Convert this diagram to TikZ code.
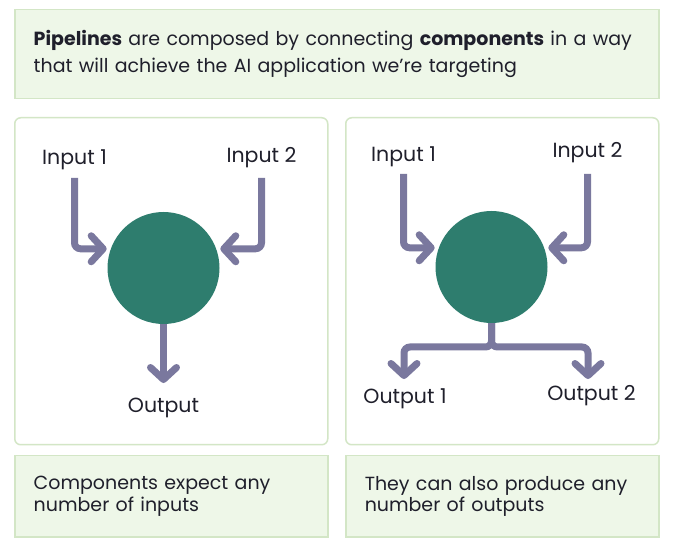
\documentclass[tikz,border=0pt]{standalone}
\usepackage{fontspec}
\setmainfont{Poppins}
\usetikzlibrary{arrows.meta}
\definecolor{boxfill}{HTML}{EEF7E8}
\definecolor{boxline}{HTML}{D3E6C6}
\definecolor{compteal}{HTML}{2E7D6E}
\definecolor{arrowc}{HTML}{7A789E}
\definecolor{txt}{HTML}{1F1F2B}
\tikzset{
  notebox/.style={draw=boxline, fill=boxfill, line width=1.5pt, anchor=north west,
    align=left, text=txt, inner xsep=19pt, inner ysep=0pt},
  panelbox/.style={draw=boxline, fill=white, line width=1.5pt, rounded corners=6pt,
    anchor=north west, minimum width=313pt, minimum height=327pt, inner sep=0pt},
  comp/.style={circle, fill=compteal, minimum size=112pt, inner sep=0pt},
  lbl/.style={anchor=base, text=txt, inner sep=0pt, font=\fontsize{20.5}{24}\selectfont},
  conn/.style={draw=arrowc, line width=7pt, rounded corners=6pt,
    -{Straight Barb[length=12pt,width=26pt,round]}}
}
\begin{document}
\begin{tikzpicture}[x=1pt,y=-1pt]
\useasboundingbox (0,0) rectangle (673,548);
\fill[white] (0,0) rectangle (673,548);

% top note
\node[notebox, minimum width=644pt, minimum height=89pt, text width=606pt,
  font=\fontsize{19}{27}\selectfont] (top) at (14,9)
  {\textbf{Pipelines} are composed by connecting \textbf{components} in a way\\that will achieve the AI application we’re targeting};

% panels
\node[panelbox] (p1) at (14,117) {};
\node[panelbox] (p2) at (345,117) {};

% bottom notes
\node[notebox, minimum width=313pt, minimum height=81pt, text width=275pt,
  font=\fontsize{19}{21.5}\selectfont] (b1) at (14,455)
  {Components expect any\\number of inputs};
\node[notebox, minimum width=313pt, minimum height=81pt, text width=275pt,
  font=\fontsize{19}{21.5}\selectfont] (b2) at (345,455)
  {They can also produce any\\number of outputs};

% left diagram
\node[comp] (c1) at (163.5,268) {};
\node[lbl] (i1) at (74.5,165) {Input 1};
\node[lbl] (i2) at (261.5,162.5) {Input 2};
\node[lbl] (o1) at (163.5,413) {Output};
\draw[conn, shorten >=4pt] ([yshift=-13pt]i1.base) |- (c1.160);
\draw[conn, shorten >=4pt] ([yshift=-15.5pt]i2.base) |- (c1.20);
\draw[conn] (c1.south) -- ([yshift=30pt]o1.base);

% right diagram
\node[comp] (c2) at (491.5,267) {};
\node[lbl] (i3) at (403.5,161.5) {Input 1};
\node[lbl] (i4) at (587.5,158) {Input 2};
\node[lbl] (o3) at (405,403) {Output 1};
\node[lbl] (o4) at (591.5,400.5) {Output 2};
\coordinate (j) at (491.5,347);
\coordinate (t3) at (404,379);
\coordinate (t4) at (588,379);
\draw[conn, shorten >=4pt] ([yshift=-12.5pt]i3.base) |- (c2.160);
\draw[conn, shorten >=4pt] ([yshift=-16pt]i4.base) |- (c2.20);
\draw[conn] (c2.south) -- (j) -| (t3);
\draw[conn] (c2.south) -- (j) -| (t4);
\end{tikzpicture}
\end{document}
